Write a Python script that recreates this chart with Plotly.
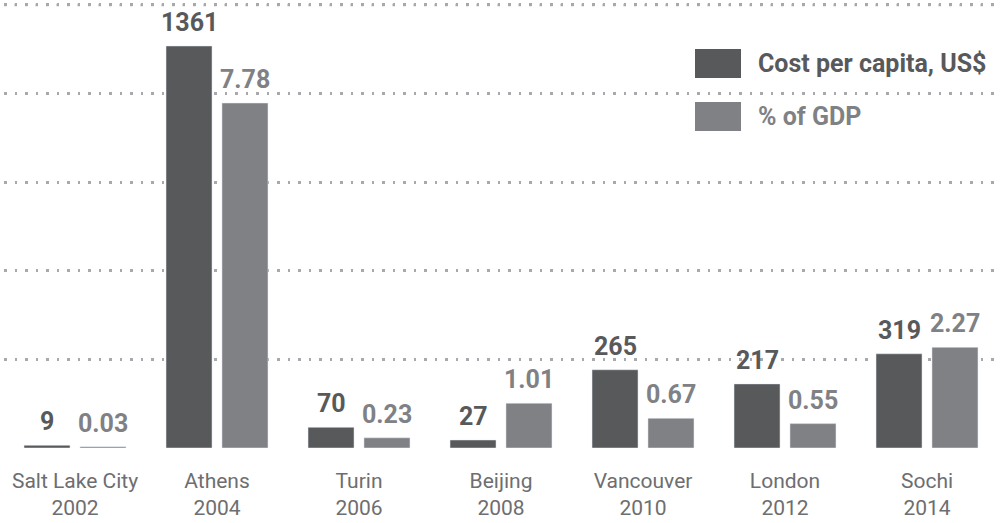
import plotly.graph_objects as go

cities = ["Salt Lake City", "Athens", "Turin", "Beijing", "Vancouver", "London", "Sochi"]
years = ["2002", "2004", "2006", "2008", "2010", "2012", "2014"]
cost_per_capita = [9, 1361, 70, 27, 265, 217, 319]
pct_gdp = [0.03, 7.78, 0.23, 1.01, 0.67, 0.55, 2.27]
cost_labels = ["9", "1361", "70", "27", "265", "217", "319"]
gdp_labels = ["0.03", "7.78", "0.23", "1.01", "0.67", "0.55", "2.27"]
series_names = ["Cost per capita, US$", "% of GDP"]
grid_values = [0, 300, 600, 900, 1200, 1500]

DARK = "#58595b"
LIGHT = "#808184"
LABEL = "#6d6e71"
GRID = "#a7a9ac"
FONT = "Roboto, Arial, sans-serif"
DASH = "2.5px,8px"

cats = [f"{c}<br>{y}" for c, y in zip(cities, years)]

W, H = 1002, 523
ML, MR, MT, MB = 4, 4, 0, 75
PW = W - ML - MR
PH = H - MT - MB

fig = go.Figure()
fig.add_trace(go.Bar(x=cats, y=cost_per_capita, name=series_names[0], marker_color=DARK,
                     width=0.324, offset=-0.359, yaxis="y", showlegend=False, hoverinfo="x+y"))
fig.add_trace(go.Bar(x=cats, y=pct_gdp, name=series_names[1], marker_color=LIGHT,
                     width=0.324, offset=0.035, yaxis="y2", showlegend=False, hoverinfo="x+y"))

ann = []
for c, v, t in zip(cats, cost_per_capita, cost_labels):
    ann.append(dict(x=c, y=v, xref="x", yref="y", text=f"<b>{t}</b>", showarrow=False,
                    xanchor="center", yanchor="bottom", xshift=-28, yshift=7,
                    font=dict(family=FONT, size=25, color=DARK)))
for c, v, t in zip(cats, pct_gdp, gdp_labels):
    ann.append(dict(x=c, y=v, xref="x", yref="y2", text=f"<b>{t}</b>", showarrow=False,
                    xanchor="center", yanchor="bottom", xshift=28, yshift=7,
                    font=dict(family=FONT, size=25, color=LIGHT)))

def px_x(p):
    return (p - ML) / PW

def px_y(p):
    return (MT + PH - p) / PH

shapes = []
# top grid line, drawn as a shape (the axis grid omits it near the plot edge)
shapes.append(dict(type="line", xref="paper", yref="y", x0=0, x1=1,
                   y0=grid_values[-1], y1=grid_values[-1],
                   line=dict(color=GRID, width=2.5, dash=DASH), layer="above"))
for i, (col, yc) in enumerate([(DARK, 63.5), (LIGHT, 116.5)]):
    shapes.append(dict(type="rect", xref="paper", yref="paper",
                       x0=px_x(695), x1=px_x(741), y0=px_y(yc + 14.5), y1=px_y(yc - 14.5),
                       fillcolor=col, line=dict(width=0), layer="above"))
    ann.append(dict(x=px_x(756), y=px_y(yc), xref="paper", yref="paper",
                    text=f"<b>{series_names[i]}</b>", showarrow=False,
                    xanchor="left", yanchor="middle",
                    font=dict(family=FONT, size=25, color=col)))

fig.update_layout(
    width=W, height=H,
    margin=dict(l=ML, r=MR, t=MT, b=MB),
    paper_bgcolor="white", plot_bgcolor="white",
    barmode="overlay",
    annotations=ann, shapes=shapes,
    font=dict(family=FONT, size=21, color=LABEL),
    xaxis=dict(type="category", showgrid=False, showline=False, zeroline=False,
               ticks="", ticklabelstandoff=18,
               tickfont=dict(family=FONT, size=21, color=LABEL)),
    yaxis=dict(range=[0, 1516.7], tickvals=grid_values,
               showticklabels=False, zeroline=False,
               showgrid=True, gridcolor=GRID, gridwidth=2.5, griddash=DASH,
               showline=False, ticks=""),
    yaxis2=dict(range=[0, 10.103], overlaying="y", side="right", showgrid=False,
                showticklabels=False, zeroline=False, showline=False, ticks=""),
)

fig.write_html("out.html", config={"displayModeBar": False},
               post_script="document.body.style.margin='0';")
